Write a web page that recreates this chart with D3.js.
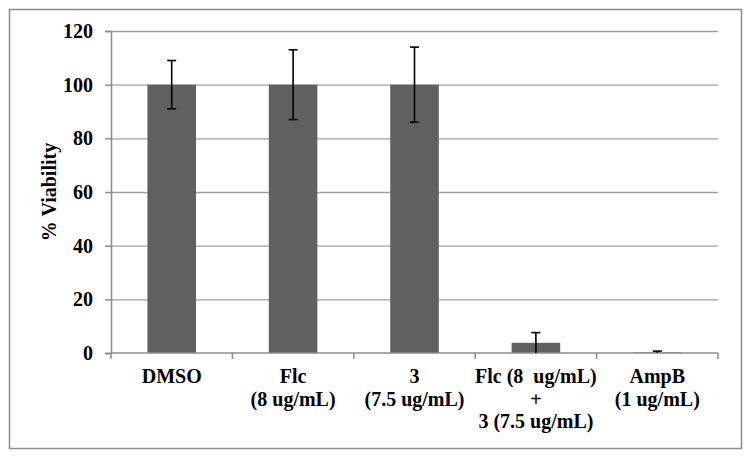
<!DOCTYPE html>
<html><head><meta charset="utf-8">
<script src="https://cdn.jsdelivr.net/npm/d3@7"></script>
<style>body{margin:0;background:#fff}svg{display:block}</style>
</head><body>
<script>
const categories = [["DMSO"], ["Flc", "(8 ug/mL)"], ["3", "(7.5 ug/mL)"], ["Flc (8  ug/mL)", "+", "3 (7.5 ug/mL)"], ["AmpB", "(1 ug/mL)"]];
const values = [100, 100, 100, 3.8, 0.2];
const errors = [9, 13, 14, 3.8, 0.5];
const yTicks = [0, 20, 40, 60, 80, 100, 120];

(function () {
const W = 751, H = 459;
const svg = d3.select("body").append("svg").attr("width", W).attr("height", H);
svg.append("rect").attr("x", 9.5).attr("y", 9.5).attr("width", 732).attr("height", 439)
  .attr("fill", "#fff").attr("stroke", "#8c8c8c").attr("stroke-width", 1.5);

const pLeft = 111, pRight = 718, pTop = 31, pBottom = 353;
const idx = d3.range(categories.length);
const x = d3.scaleBand().domain(idx).range([pLeft, pRight]).paddingInner(0.6).paddingOuter(0.3);
const xOuter = d3.scaleBand().domain(idx).range([pLeft, pRight]);
const y = d3.scaleLinear().domain([0, 120]).range([pBottom, pTop]);
const font = "'Liberation Serif','Times New Roman',serif";
const fs = 20;

// gridlines
svg.append("g").selectAll("line").data(yTicks.filter(d => d > 0)).join("line")
  .attr("x1", pLeft).attr("x2", pRight).attr("y1", d => y(d) + 0.5).attr("y2", d => y(d) + 0.5)
  .attr("stroke", "#a0a0a0").attr("stroke-width", 1.3);

// bars
svg.append("g").selectAll("rect").data(values).join("rect")
  .attr("x", (d, i) => x(i)).attr("width", x.bandwidth())
  .attr("y", d => y(d)).attr("height", d => y(0) - y(d))
  .attr("fill", "#606060");

// y axis
const yAxis = svg.append("g").attr("transform", `translate(${pLeft},0)`)
  .call(d3.axisLeft(y).tickValues(yTicks).tickSize(6).tickPadding(12));
yAxis.select(".domain").attr("stroke", "#8c8c8c").attr("stroke-width", 1.5);
yAxis.selectAll(".tick line").attr("stroke", "#8c8c8c").attr("stroke-width", 1.5);
yAxis.selectAll("text").attr("font-family", font).attr("font-weight", "bold")
  .attr("font-size", fs).attr("fill", "#000");

// x axis
const xAxis = svg.append("g").attr("transform", `translate(0,${pBottom})`);
xAxis.append("line").attr("x1", pLeft).attr("x2", pRight).attr("y1", 0).attr("y2", 0)
  .attr("stroke", "#8c8c8c").attr("stroke-width", 1.5);
const tickXs = idx.map(i => xOuter(i)).concat([pRight]);
xAxis.selectAll("line.t").data(tickXs).join("line").attr("class", "t")
  .attr("x1", d => d).attr("x2", d => d).attr("y1", 0).attr("y2", 6)
  .attr("stroke", "#8c8c8c").attr("stroke-width", 1.5);
const lab = xAxis.selectAll("text").data(categories).join("text")
  .attr("font-family", font).attr("font-weight", "bold").attr("font-size", fs)
  .attr("text-anchor", "middle").attr("fill", "#000");
lab.each(function (lines, i) {
  const t = d3.select(this);
  lines.forEach((l, j) => {
    t.append("tspan").attr("x", x(i) + x.bandwidth() / 2).attr("y", 30 + j * 22.5)
      .attr("xml:space", "preserve").text(l);
  });
});

// error bars
const eb = svg.append("g").attr("stroke", "#000").attr("stroke-width", 1.6);
values.forEach((v, i) => {
  const cx = x(i) + x.bandwidth() / 2;
  const lo = Math.max(0, v - errors[i]), hi = v + errors[i];
  eb.append("line").attr("x1", cx).attr("x2", cx).attr("y1", y(lo)).attr("y2", y(hi));
  eb.append("line").attr("x1", cx - 4.5).attr("x2", cx + 4.5).attr("y1", y(hi)).attr("y2", y(hi));
  if (v - errors[i] > 0) eb.append("line").attr("x1", cx - 4.5).attr("x2", cx + 4.5).attr("y1", y(lo)).attr("y2", y(lo));
});

// y title
svg.append("text").attr("transform", `translate(56,${(pTop + pBottom) / 2}) rotate(-90)`)
  .attr("text-anchor", "middle").attr("font-family", font).attr("font-weight", "bold")
  .attr("font-size", fs).text("% Viability");
})();
</script>
</body></html>
